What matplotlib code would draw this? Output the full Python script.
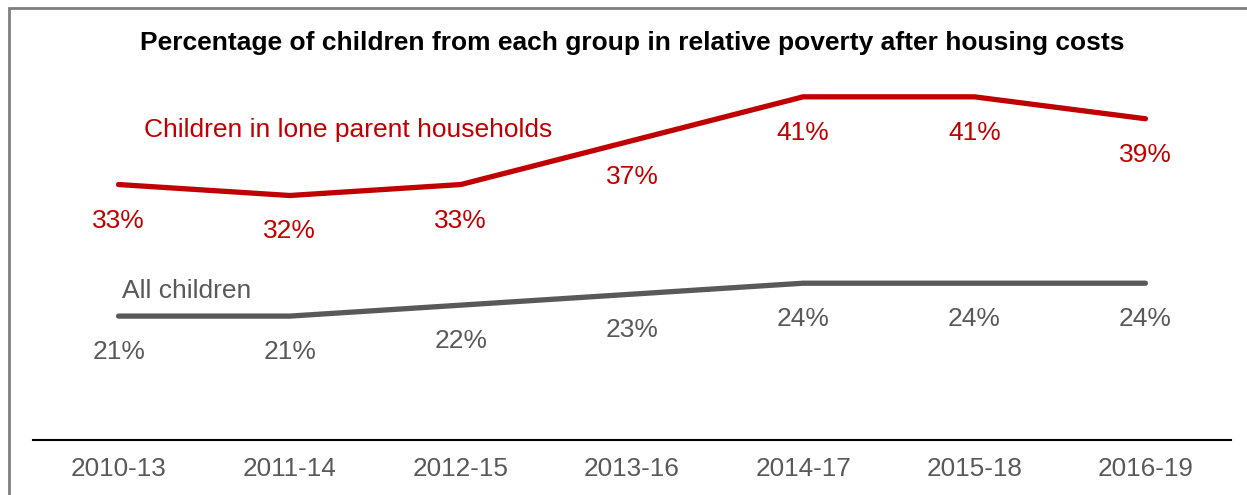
import matplotlib.pyplot as plt
from matplotlib.patches import Rectangle

plt.rcParams['font.family'] = ['Liberation Sans', 'DejaVu Sans']

periods = ["2010-13", "2011-14", "2012-15", "2013-16", "2014-17", "2015-18", "2016-19"]
lone_parent = [33, 32, 33, 37, 41, 41, 39]
all_children = [21, 21, 22, 23, 24, 24, 24]

RED = "#C00000"
GREY = "#595959"

W, H = 1247, 495
fig = plt.figure(figsize=(W / 100, H / 100), dpi=100)

# outer frame (runs off the right and bottom edges)
fig.patches.append(Rectangle((9 / W, -0.1), 1.2, 1 - 8 / H + 0.1, transform=fig.transFigure,
                             fill=False, edgecolor="#7f7f7f", linewidth=2))

ax = fig.add_axes([33 / W, 1 - 440 / H, (1231 - 33) / W, (440 - 42) / H])
x = list(range(len(periods)))
ax.plot(x, lone_parent, color=RED, linewidth=3.8, solid_capstyle="round")
ax.plot(x, all_children, color=GREY, linewidth=3.8, solid_capstyle="round")

ax.set_xlim(-0.5, len(periods) - 0.5)
ax.set_ylim(9.7, 46)

for i, v in enumerate(lone_parent):
    ax.annotate(f"{v}%", (i, v), xytext=(0, -36), textcoords="offset pixels",
                ha="center", va="center", color=RED, fontsize=19)
for i, v in enumerate(all_children):
    ax.annotate(f"{v}%", (i, v), xytext=(0, -36), textcoords="offset pixels",
                ha="center", va="center", color=GREY, fontsize=19)

ax.text(0.15, 38.0, "Children in lone parent households", color=RED, fontsize=19,
        ha="left", va="center")
ax.text(0.02, 23.3, "All children", color=GREY, fontsize=19, ha="left", va="center")

ax.set_xticks(x)
ax.set_xticklabels(periods, color=GREY, fontsize=18.8)
ax.tick_params(axis="x", length=0, pad=12)
ax.set_yticks([])
for side in ["top", "right", "left"]:
    ax.spines[side].set_visible(False)
ax.spines["bottom"].set_color("black")
ax.spines["bottom"].set_linewidth(1.5)

fig.text(632 / W, 1 - 43 / H, "Percentage of children from each group in relative poverty after housing costs",
         ha="center", va="center", fontsize=19, fontweight="bold", color="black")

fig.savefig("out.png", dpi=100)
